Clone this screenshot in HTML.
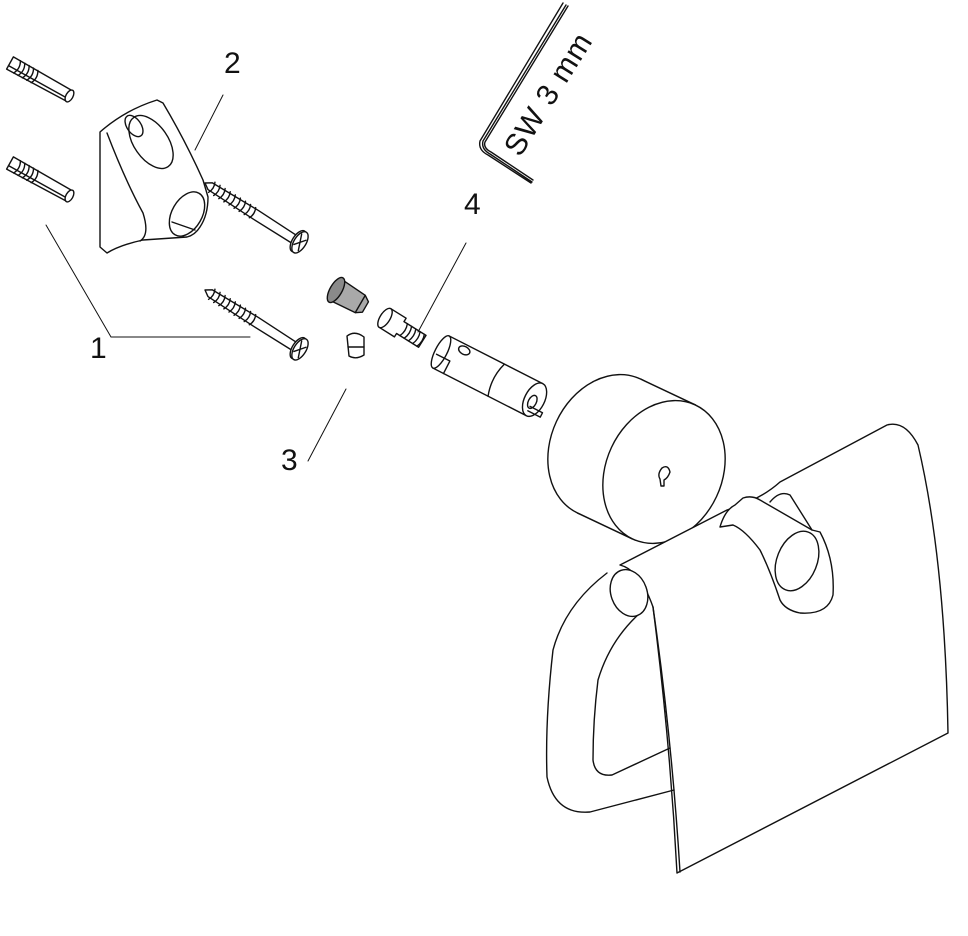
<!DOCTYPE html>
<html><head><meta charset="utf-8"><style>
html,body{margin:0;padding:0;background:#fff;}
svg{display:block;}
text{font-family:"Liberation Sans",Arial,sans-serif;fill:#111;}
</style></head><body>
<svg width="968" height="936" viewBox="0 0 968 936" xmlns="http://www.w3.org/2000/svg" fill="none" stroke="#111" stroke-width="1.4" stroke-linejoin="round" stroke-linecap="round">
<defs>
<g id="anchor">
<path d="M0,-7 L68,-6 L68,6 L0,7 Z" fill="#fff"/>
<line x1="0" y1="3" x2="68" y2="3"/>
<ellipse cx="68" cy="0" rx="3.5" ry="6.5" fill="#fff"/>
<path d="M8,-7 Q12,0 8,7 M13,-7 Q17,0 13,7 M18,-7 Q22,0 18,7 M23,-7 Q27,0 23,7 M28,-7 Q32,0 28,7"/>
</g>
<g id="screw">
<path d="M0,0 L6,-4 L60,-5 L108,-4 L108,5 L60,5 L6,4 Z" fill="#fff"/>
<path d="M8,-6 Q11,0 8,6 M14,-6 Q17,0 14,6 M20,-6 Q23,0 20,6 M26,-6 Q29,0 26,6 M32,-6 Q35,0 32,6 M38,-6 Q41,0 38,6 M44,-6 Q47,0 44,6 M50,-6 Q53,0 50,6 M56,-6 Q59,0 56,6"/>
<ellipse cx="110" cy="0" rx="6" ry="12" fill="#fff"/>
<ellipse cx="112" cy="0" rx="6" ry="12" fill="#fff"/>
<path d="M109,-8 L115,8 M108,5 L116,-5"/>
</g>
</defs>
<use href="#anchor" transform="translate(10,63) rotate(29)"/>
<use href="#anchor" transform="translate(10,163) rotate(29)"/>
<!-- bracket 2 -->
<path d="M100,132 Q125,110 157,100 L163,103 Q185,140 203,180 L208,197 Q208,215 200,227 Q195,235 187,237 L143,240 Q120,245 107,253 L100,247 Z" fill="#fff"/>
<path d="M107,133 Q125,180 143,213 Q150,235 140,241"/>
<ellipse cx="151" cy="142" rx="17" ry="30" transform="rotate(-35 151 142)"/>
<ellipse cx="134" cy="126" rx="7" ry="12" transform="rotate(-35 134 126)"/>
<ellipse cx="187" cy="214" rx="15" ry="24" transform="rotate(30 187 214)"/>
<path d="M172,222 L195,230"/>
<use href="#screw" transform="translate(205,183) rotate(32)"/>
<use href="#screw" transform="translate(205,290) rotate(32)"/>
<!-- gray insert -->
<g transform="translate(336,290) rotate(30)">
<path d="M0,-12 L28,-10 L34,-6 L34,6 L28,10 L0,12 Z" fill="#a9a9a9"/>
<ellipse cx="0" cy="0" rx="6" ry="14" fill="#8a8a8a"/>
<line x1="28" y1="-10" x2="28" y2="10"/>
</g>
<path d="M347,336 Q355,330 364,337 L364,355 Q356,360 349,356 Z" fill="#fff"/>
<line x1="348" y1="347" x2="364" y2="347"/>
<g transform="translate(385,318) rotate(32)">
<path d="M0,-11 L18,-11 L18,-7 L44,-7 L44,7 L18,7 L18,11 L0,11 Z" fill="#fff"/>
<ellipse cx="0" cy="0" rx="5" ry="11" fill="#fff"/>
<path d="M22,-7 Q25,0 22,7 M27,-7 Q30,0 27,7 M32,-7 Q35,0 32,7 M37,-7 Q40,0 37,7 M42,-7 Q45,0 42,7"/>
</g>
<g transform="translate(441,352) rotate(27)">
<path d="M0,-18 L105,-18 L105,18 L0,18 Z" fill="#fff"/>
<ellipse cx="0" cy="0" rx="6" ry="18" fill="#fff"/>
<path d="M-3,4 L12,4 L12,18"/>
<path d="M62,-18 Q56,0 62,18"/>
<ellipse cx="105" cy="0" rx="10" ry="18" fill="#fff"/>
<ellipse cx="104" cy="3" rx="4" ry="7"/>
<path d="M104,8 L118,8 L118,13 L104,13"/>
<ellipse cx="20" cy="-12" rx="6" ry="4"/>
</g>
<!-- wrench -->
<path d="M563,3 L480,141 Q478,150 488,155 L531,183 M568,6 L485,142 Q483,148 491,152 L533,180 M566,5 L483,141 Q481,149 490,154 L532,182"/>
<text x="0" y="0" font-size="30" stroke="none" letter-spacing="1" transform="translate(520,158) rotate(-58)">SW 3 mm</text>
<path d="M46,225 L111,337 L250,337" stroke-width="1"/>
<path d="M223,95 L195,150" stroke-width="1"/>
<path d="M466,243 L418,332" stroke-width="1"/>
<path d="M346,389 L308,461" stroke-width="1"/>
<text x="224" y="73" font-size="30" stroke="none">2</text>
<text x="90" y="358" font-size="30" stroke="none">1</text>
<text x="464" y="214" font-size="30" stroke="none">4</text>
<text x="281" y="470" font-size="30" stroke="none">3</text>
<!-- roll cylinder -->
<ellipse cx="609" cy="446" rx="58" ry="74" transform="rotate(25 609 446)" fill="#fff"/>
<line x1="609" y1="446" x2="664" y2="472" stroke-width="149.5" stroke-linecap="butt"/>
<line x1="608" y1="445.5" x2="664" y2="472" stroke-width="146.5" stroke="#fff" stroke-linecap="butt"/>
<ellipse cx="664" cy="472" rx="58" ry="74" transform="rotate(25 664 472)" fill="#fff"/>
<path d="M662,468 Q668,464 670,472 Q668,478 664,480 L664,486 L661,486 L660,479 Q657,474 662,468 Z"/>
<!-- cover -->
<path d="M620,565 L727,510 Q760,500 780,482 L887,425 Q905,420 918,445 Q945,560 948,733 L677,873 Q670,740 653,607 Q640,570 620,565 Z" fill="#fff"/>
<path d="M653,607 Q672,740 680,872"/>
<!-- ring handle -->
<path d="M607,573 Q565,605 553,650 Q545,720 547,777 Q555,815 590,812 L674,790"/>
<path d="M640,613 Q610,640 598,680 Q593,720 593,760 Q595,777 612,775 L670,748"/>
<ellipse cx="629" cy="593" rx="18" ry="24" transform="rotate(-20 629 593)" fill="#fff"/>
<!-- cover bracket -->
<path d="M720,527 Q725,510 735,505 L743,498 Q752,495 760,500 L812,530 L820,532 Q835,560 833,595 Q828,615 800,613 Q785,610 780,600 Q770,570 760,550 Q745,530 733,525 Z" fill="#fff"/>
<path d="M770,502 Q780,490 790,495 L812,530"/>
<ellipse cx="797" cy="561" rx="20" ry="31" transform="rotate(22 797 561)" fill="#fff"/>
</svg>
</body></html>
